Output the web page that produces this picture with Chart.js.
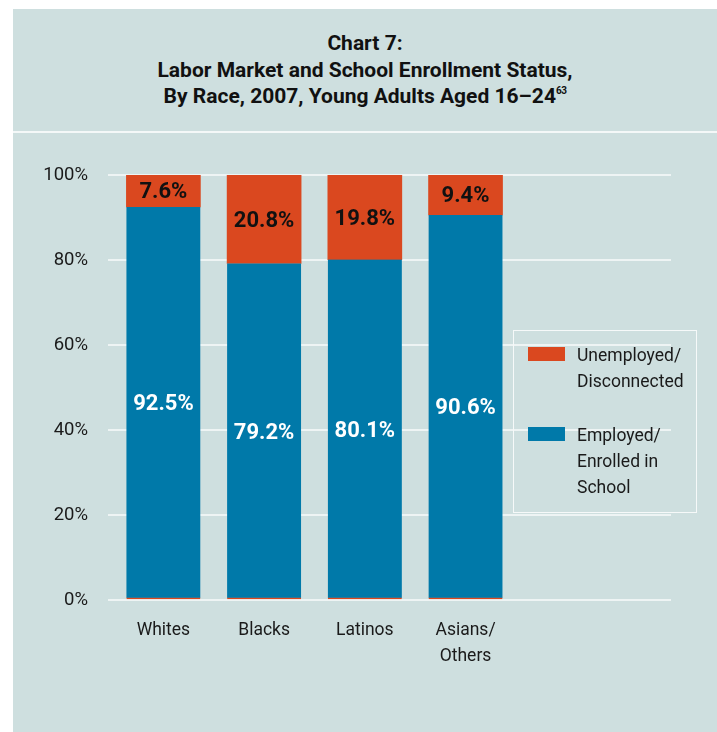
<!DOCTYPE html>
<html>
<head>
<meta charset="utf-8">
<script src="https://cdn.jsdelivr.net/npm/chart.js@4/dist/chart.umd.min.js"></script>
<style>
  html, body { margin: 0; padding: 0; background: #ffffff; }
  body {
    width: 717px; height: 732px; position: relative; overflow: hidden;
    font-family: Roboto, 'Liberation Sans', sans-serif;
  }
  #panel { position: absolute; left: 13px; top: 9px; right: 0; bottom: 0; background: #cedfdf; }
  #rule { position: absolute; left: 13px; right: 0; top: 131px; height: 2px; background: #f4f8f8; }
  #title {
    position: absolute; left: 13px; width: 704px; top: 30px;
    text-align: center; font-weight: bold; font-size: 21px; line-height: 26.5px; color: #111;
  }
  #title .sup { font-size: 10px; position: relative; top: -9px; letter-spacing: -0.5px; }
  #chart { position: absolute; left: 0; top: 0; }
  #legend {
    position: absolute; left: 513px; top: 330px; width: 182px; height: 181px;
    border: 1.5px solid #f6f9f9; color: #1a1a1a; font-size: 17.5px; line-height: 26px;
  }
  .item { position: absolute; left: 14px; }
  .swatch { position: absolute; left: 0; top: 5px; width: 37px; height: 14px; }
  .text { position: absolute; left: 49px; top: 0; white-space: nowrap; }
</style>
</head>
<body>
<div id="panel"></div>
<div id="rule"></div>
<div id="title">Chart 7:<br>Labor Market and School Enrollment Status,<br>By Race, 2007, Young Adults Aged 16–24<span class="sup">63</span></div>
<canvas id="chart" width="717" height="732"></canvas>
<div id="legend"></div>
<script>
// Groups along the horizontal axis (multi-line names are arrays of lines)
const categories = ['Whites', 'Blacks', 'Latinos', ['Asians/', 'Others']];

// Share of young adults aged 16–24 in each status, percent
const employedEnrolled = [92.5, 79.2, 80.1, 90.6];
const unemployedDisconnected = [7.6, 20.8, 19.8, 9.4];

// Vertical axis ticks, percent
const yTicks = [0, 20, 40, 60, 80, 100];

// Series names as they appear in the key
const employedName = ['Employed/', 'Enrolled in', 'School'];
const unemployedName = ['Unemployed/', 'Disconnected'];

const BLUE = '#0079a9';
const RED = '#da481f';
const FONT = "Roboto, 'Liberation Sans', sans-serif";

const toPoints = values => values.map((v, i) => ({ x: i, y: v }));

// Writes each segment's value in the middle of its bar piece
const segmentLabels = {
  id: 'segmentLabels',
  afterDatasetsDraw(chart) {
    const ctx = chart.ctx;
    chart.data.datasets.forEach((ds, di) => {
      const meta = chart.getDatasetMeta(di);
      meta.data.forEach((bar, i) => {
        const v = ds.data[i].y;
        ctx.save();
        ctx.font = 'bold 22px ' + FONT;
        ctx.fillStyle = ds.valueColor;
        ctx.textAlign = 'center';
        ctx.textBaseline = 'middle';
        ctx.fillText(v.toFixed(1) + '%', bar.x, (bar.y + bar.base) / 2 + 2);
        ctx.restore();
      });
    });
  }
};

const chart = new Chart(document.getElementById('chart'), {
  type: 'bar',
  data: {
    datasets: [
      {
        label: employedName.join(' '),
        data: toPoints(employedEnrolled),
        backgroundColor: BLUE,
        borderColor: RED,
        borderWidth: { top: 0, left: 0, right: 0, bottom: 1.5 },
        borderSkipped: false,
        valueColor: '#ffffff',
        keyLines: employedName
      },
      {
        label: unemployedName.join(' '),
        data: toPoints(unemployedDisconnected),
        backgroundColor: RED,
        borderWidth: 0,
        valueColor: '#111111',
        keyLines: unemployedName
      }
    ]
  },
  options: {
    responsive: false,
    animation: false,
    devicePixelRatio: 1,
    barThickness: 74,
    layout: { padding: { top: 175, right: 46, left: 0, bottom: 0 } },
    plugins: { legend: { display: false }, tooltip: { enabled: false } },
    scales: {
      x: {
        type: 'linear',
        stacked: true,
        offset: false,
        min: -0.55,
        max: 5.04,
        grid: { display: false, drawTicks: false },
        border: { display: false },
        afterFit: s => { s.height = 132; },
        afterBuildTicks: s => { s.ticks = categories.map((c, i) => ({ value: i })); },
        ticks: {
          autoSkip: false,
          maxRotation: 0,
          padding: 18,
          color: '#1a1a1a',
          font: { family: FONT, size: 17.5, lineHeight: 26 / 17.5 },
          callback: v => categories[v]
        }
      },
      y: {
        stacked: true,
        min: 0,
        max: 100,
        grid: { color: '#eef4f4', lineWidth: 2, drawTicks: false },
        border: { display: false },
        afterFit: s => { s.width = 108; },
        afterBuildTicks: s => { s.ticks = yTicks.map(v => ({ value: v })); },
        ticks: {
          padding: 20,
          color: '#1a1a1a',
          font: { family: FONT, size: 18.5 },
          callback: v => v + '%'
        }
      }
    }
  },
  plugins: [segmentLabels]
});

// Key box, listed top series first
const legend = document.getElementById('legend');
const keyTops = [11, 91];
chart.data.datasets.slice().reverse().forEach((ds, k) => {
  const item = document.createElement('div');
  item.className = 'item';
  item.style.top = keyTops[k] + 'px';
  const sw = document.createElement('div');
  sw.className = 'swatch';
  sw.style.background = ds.backgroundColor;
  const tx = document.createElement('div');
  tx.className = 'text';
  tx.innerHTML = ds.keyLines.join('<br>');
  item.appendChild(sw);
  item.appendChild(tx);
  legend.appendChild(item);
});
</script>
</body>
</html>
